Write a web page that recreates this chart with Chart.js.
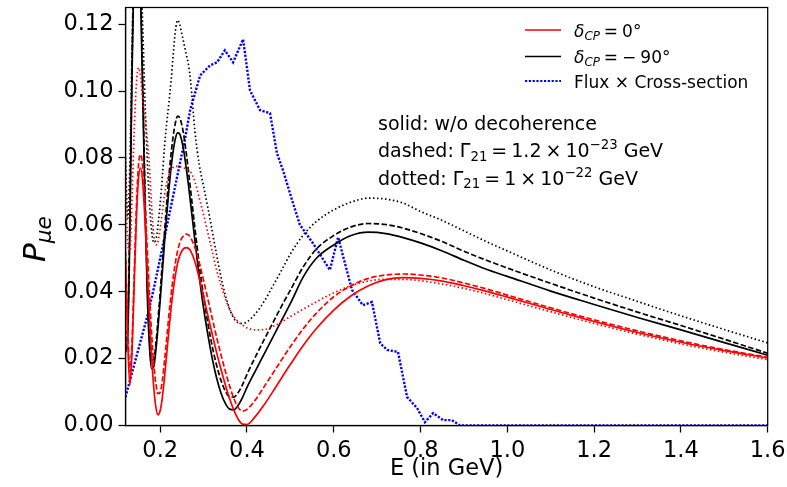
<!DOCTYPE html>
<html><head><meta charset="utf-8">
<script src="https://cdn.jsdelivr.net/npm/chart.js@4/dist/chart.umd.min.js"></script>
<style>html,body{margin:0;padding:0;background:#fff;}#wrap{width:787px;height:487px;}</style>
</head><body><div id="wrap"><canvas id="c" width="787" height="487"></canvas></div>
<script>
// ---- data ----
const energy = [0.12,0.125,0.13,0.135,0.14,0.145,0.15,0.155,0.16,0.165,0.17,0.175,0.18,0.185,0.19,0.195,0.2,0.205,0.21,0.215,0.22,0.225,0.23,0.235,0.24,0.245,0.25,0.255,0.26,0.265,0.27,0.28,0.29,0.30,0.31,0.32,0.33,0.34,0.35,0.36,0.37,0.38,0.39,0.40,0.42,0.44,0.46,0.48,0.50,0.53,0.56,0.60,0.64,0.68,0.72,0.76,0.80,0.85,0.90,0.95,1.00,1.10,1.20,1.30,1.40,1.50,1.60];

const redSolid = [0.050,0.026,0.012,0.022,0.042,0.0615,0.074,0.077,0.072,0.061,0.047,0.033,0.021,0.0115,0.0055,0.0032,0.0045,0.0085,0.0145,0.0215,0.0285,0.035,0.0405,0.0450,0.0485,0.0508,0.0522,0.053,0.0532,0.053,0.0522,0.0490,0.0440,0.0385,0.0328,0.0272,0.0218,0.0168,0.0122,0.0080,0.0045,0.0018,0.0004,0.0003,0.0028,0.0063,0.0102,0.0143,0.0183,0.0240,0.0290,0.0345,0.0388,0.0418,0.0436,0.0442,0.0440,0.0432,0.0418,0.0402,0.0384,0.0347,0.0311,0.0278,0.0249,0.0224,0.0202];

const redDashed = [0.052,0.030,0.016,0.025,0.045,0.065,0.078,0.081,0.077,0.066,0.053,0.040,0.028,0.0185,0.0125,0.0095,0.0100,0.0135,0.0195,0.026,0.033,0.039,0.0443,0.0488,0.0522,0.0546,0.0561,0.0569,0.0572,0.057,0.0562,0.0532,0.0487,0.0434,0.0377,0.0320,0.0264,0.0212,0.0163,0.0118,0.0080,0.0053,0.0043,0.0048,0.0078,0.0117,0.0157,0.0197,0.0236,0.0290,0.0336,0.0385,0.0418,0.0440,0.0450,0.0453,0.0450,0.0441,0.0426,0.0409,0.0390,0.0352,0.0316,0.0283,0.0253,0.0227,0.0204];

const redDotted = [0.075,0.055,0.052,0.068,0.088,0.102,0.107,0.104,0.097,0.092,0.086,0.078,0.066,0.057,0.054,0.055,0.059,0.064,0.069,0.0725,0.075,0.0765,0.0772,0.0775,0.0775,0.0774,0.0772,0.077,0.0768,0.0765,0.0758,0.073,0.068,0.063,0.0575,0.052,0.0465,0.042,0.038,0.0348,0.0325,0.031,0.030,0.0292,0.0286,0.0287,0.0296,0.031,0.0326,0.0348,0.037,0.0397,0.0418,0.0432,0.0437,0.0437,0.0433,0.0423,0.041,0.0394,0.0376,0.034,0.0305,0.0273,0.0244,0.0219,0.0197];

const blackSolid = [0.022,0.026,0.058,0.105,0.140,0.155,0.150,0.127,0.097,0.066,0.040,0.024,0.0170,0.0175,0.0225,0.0295,0.0375,0.0460,0.0548,0.0630,0.0705,0.0770,0.0822,0.0858,0.0875,0.0872,0.0850,0.0815,0.0770,0.0720,0.0665,0.0552,0.0445,0.0350,0.0270,0.0200,0.0142,0.0097,0.0066,0.0049,0.0047,0.0061,0.0085,0.0114,0.0165,0.0215,0.0265,0.0315,0.0365,0.0445,0.0500,0.0540,0.0568,0.0578,0.0574,0.0562,0.0546,0.0522,0.0494,0.0468,0.0446,0.0402,0.0362,0.0323,0.0286,0.0248,0.0210];

const blackDashed = [0.025,0.030,0.062,0.108,0.143,0.158,0.153,0.131,0.101,0.070,0.044,0.027,0.0195,0.0198,0.0245,0.0318,0.0400,0.0490,0.0580,0.0665,0.0745,0.0812,0.0866,0.0905,0.0925,0.0920,0.0898,0.0862,0.0815,0.0762,0.0705,0.0590,0.0482,0.0387,0.0305,0.0236,0.0180,0.0135,0.0103,0.0086,0.0085,0.0099,0.0123,0.0153,0.0207,0.0258,0.0308,0.0358,0.0405,0.0475,0.0528,0.0568,0.0594,0.0604,0.0601,0.0590,0.0574,0.0550,0.0521,0.0495,0.0471,0.0425,0.0381,0.0339,0.0299,0.0258,0.0216];

const blackDotted = [0.080,0.062,0.078,0.112,0.140,0.153,0.151,0.138,0.118,0.097,0.080,0.067,0.0585,0.0548,0.0555,0.0600,0.0665,0.0745,0.0835,0.0905,0.0965,0.1030,0.1110,0.1180,0.1212,0.1200,0.1170,0.1140,0.1110,0.1080,0.1030,0.0880,0.0780,0.0715,0.0650,0.0580,0.0510,0.0445,0.0390,0.0348,0.0320,0.0307,0.0305,0.0310,0.0335,0.0372,0.0418,0.0465,0.0513,0.0570,0.0610,0.0645,0.0668,0.0680,0.0677,0.0665,0.0640,0.0613,0.0582,0.0551,0.0522,0.0465,0.0415,0.0371,0.0328,0.0287,0.0247];

const fluxEnergy = [0.12,0.148,0.171,0.187,0.2565,0.269,0.292,0.315,0.331,0.349,0.368,0.391,0.407,0.43,0.453,0.469,0.483,0.506,0.522,0.552,0.591,0.61,0.642,0.667,0.688,0.707,0.723,0.748,0.769,0.792,0.81,0.829,0.852,0.872,0.891,1.0,1.2,1.4,1.6];
const fluxValue = [0.0085,0.022,0.033,0.042,0.0853,0.0943,0.1047,0.1077,0.1086,0.1122,0.1086,0.1155,0.1002,0.0943,0.0934,0.0814,0.0763,0.0665,0.0600,0.0545,0.0465,0.0563,0.0405,0.036,0.0369,0.0246,0.0226,0.022,0.0085,0.0052,0.001,0.0037,0.0016,0.0016,0.0,0.0,0.0,0.0,0.0];

const xTickValues = [0.2,0.4,0.6,0.8,1.0,1.2,1.4,1.6];
const yTickValues = [0.00,0.02,0.04,0.06,0.08,0.10,0.12];

// ---- chart ----
const FONT = "'DejaVu Sans', sans-serif";
const pts = (xs, ys) => xs.map((x, i) => ({x: x, y: ys[i]}));
const DASH = [5.5, 2.4], DOT = [1.5, 2.5], FLUXDOT = [2.2, 1.6];

function line(label, xs, ys, color, dash, width, smooth) {
  return {
    label: label, data: pts(xs, ys), showLine: true, pointRadius: 0, pointHoverRadius: 0,
    borderColor: color, backgroundColor: color, borderWidth: width, borderDash: dash,
    cubicInterpolationMode: smooth ? 'monotone' : 'default', tension: 0, fill: false
  };
}

const datasets = [
  line('rs', energy, redSolid, '#ff0000', [], 1.7, true),
  line('rd', energy, redDashed, '#ff0000', DASH, 1.7, true),
  line('rt', energy, redDotted, '#ff0000', DOT, 1.7, true),
  line('ks', energy, blackSolid, '#000000', [], 1.7, true),
  line('kd', energy, blackDashed, '#000000', DASH, 1.7, true),
  line('kt', energy, blackDotted, '#000000', DOT, 1.7, true),
  line('flux', fluxEnergy, fluxValue, '#0000ff', FLUXDOT, 2.4, false)
];

// rich text drawing (mathtext-like); {gap:n} inserts n px
function drawRich(ctx, x, y, parts, baseSize) {
  let cx = x;
  for (const p of parts) {
    if (p.gap !== undefined) { cx += p.gap; continue; }
    const size = baseSize * (p.scale || 1);
    ctx.font = (p.italic ? 'italic ' : '') + size + 'px ' + FONT;
    ctx.fillText(p.t, cx, y + (p.dy || 0) * baseSize);
    cx += ctx.measureText(p.t).width;
  }
  return cx;
}

const decor = {
  id: 'decor',
  afterDraw(chart) {
    const ctx = chart.ctx, a = chart.chartArea;
    ctx.save();
    ctx.strokeStyle = '#000'; ctx.lineWidth = 1.25; ctx.setLineDash([]);
    ctx.strokeRect(a.left, a.top, a.right - a.left, a.bottom - a.top);
    ctx.fillStyle = '#000'; ctx.textBaseline = 'alphabetic'; ctx.textAlign = 'left';

    // x title
    ctx.font = '22.5px ' + FONT; ctx.textAlign = 'center';
    ctx.fillText('E (in GeV)', (a.left + a.right) / 2, 475);
    ctx.textAlign = 'left';

    // y title P_{μe}
    ctx.save();
    ctx.translate(45, 262); ctx.rotate(-Math.PI / 2);
    drawRich(ctx, 0, 0, [{t: 'P', italic: true}, {t: 'μe', italic: true, scale: 0.7, dy: 0.2}], 31);
    ctx.restore();

    // legend
    const leg = [
      {color: '#ff0000', dash: [], w: 1.7, y: 30, parts: [{t:'δ',italic:true},{t:'CP',italic:true,scale:0.7,dy:0.18},{gap:4},{t:'='},{gap:4},{t:'0°'}]},
      {color: '#000000', dash: [], w: 1.7, y: 56.5, parts: [{t:'δ',italic:true},{t:'CP',italic:true,scale:0.7,dy:0.18},{gap:4},{t:'='},{gap:4},{t:'−'},{gap:4},{t:'90°'}]},
      {color: '#0000ff', dash: FLUXDOT, w: 2.0, y: 81, parts: [{t:'Flux × Cross-section'}]}
    ];
    for (const it of leg) {
      ctx.strokeStyle = it.color; ctx.lineWidth = it.w; ctx.setLineDash(it.dash);
      ctx.beginPath(); ctx.moveTo(525, it.y); ctx.lineTo(561, it.y); ctx.stroke();
      ctx.setLineDash([]); ctx.fillStyle = '#000';
      drawRich(ctx, 574, it.y + 6.5, it.parts, 17);
    }

    // annotations
    ctx.fillStyle = '#000';
    drawRich(ctx, 378, 129.5, [{t: 'solid: w/o decoherence'}], 19);
    drawRich(ctx, 378, 157, [{t: 'dashed: Γ'}, {t: '21', scale: 0.7, dy: 0.2}, {gap: 4}, {t: '='}, {gap: 4}, {t: '1.2'}, {gap: 4}, {t: '×'}, {gap: 4}, {t: '10'}, {t: '−23', scale: 0.7, dy: -0.42}, {t: ' GeV'}], 19);
    drawRich(ctx, 378, 184.5, [{t: 'dotted: Γ'}, {t: '21', scale: 0.7, dy: 0.2}, {gap: 4}, {t: '='}, {gap: 4}, {t: '1'}, {gap: 4}, {t: '×'}, {gap: 4}, {t: '10'}, {t: '−22', scale: 0.7, dy: -0.42}, {t: ' GeV'}], 19);
    ctx.restore();
  }
};

new Chart(document.getElementById('c'), {
  type: 'scatter',
  data: {datasets: datasets},
  plugins: [decor],
  options: {
    responsive: false, animation: false, devicePixelRatio: 1,
    layout: {padding: {left: 0, right: 19.3, top: 7.5, bottom: 0}},
    plugins: {legend: {display: false}, tooltip: {enabled: false}, title: {display: false}},
    scales: {
      x: {
        type: 'linear', min: 0.12, max: 1.6,
        afterBuildTicks: s => { s.ticks = xTickValues.map(v => ({value: v})); },
        afterFit: s => { s.height = 61.5; s.paddingLeft = 0; s.paddingRight = 0; },
        ticks: {font: {family: FONT, size: 22.5}, color: '#000', padding: 5, maxRotation: 0, autoSkip: false,
                callback: v => Number(v).toFixed(1)},
        grid: {drawOnChartArea: false, drawTicks: true, tickLength: 7, tickColor: '#000', tickWidth: 1.25},
        border: {display: true, color: '#000', width: 1.25}
      },
      y: {
        type: 'linear', min: 0, max: 0.125,
        afterBuildTicks: s => { s.ticks = yTickValues.map(v => ({value: v})); },
        afterFit: s => { s.width = 125.5; s.paddingTop = 0; s.paddingBottom = 0; },
        ticks: {font: {family: FONT, size: 22.5}, color: '#000', padding: 5, autoSkip: false,
                callback: v => Number(v).toFixed(2)},
        grid: {drawOnChartArea: false, drawTicks: true, tickLength: 7, tickColor: '#000', tickWidth: 1.25},
        border: {display: true, color: '#000', width: 1.25}
      }
    }
  }
});
</script></body></html>
